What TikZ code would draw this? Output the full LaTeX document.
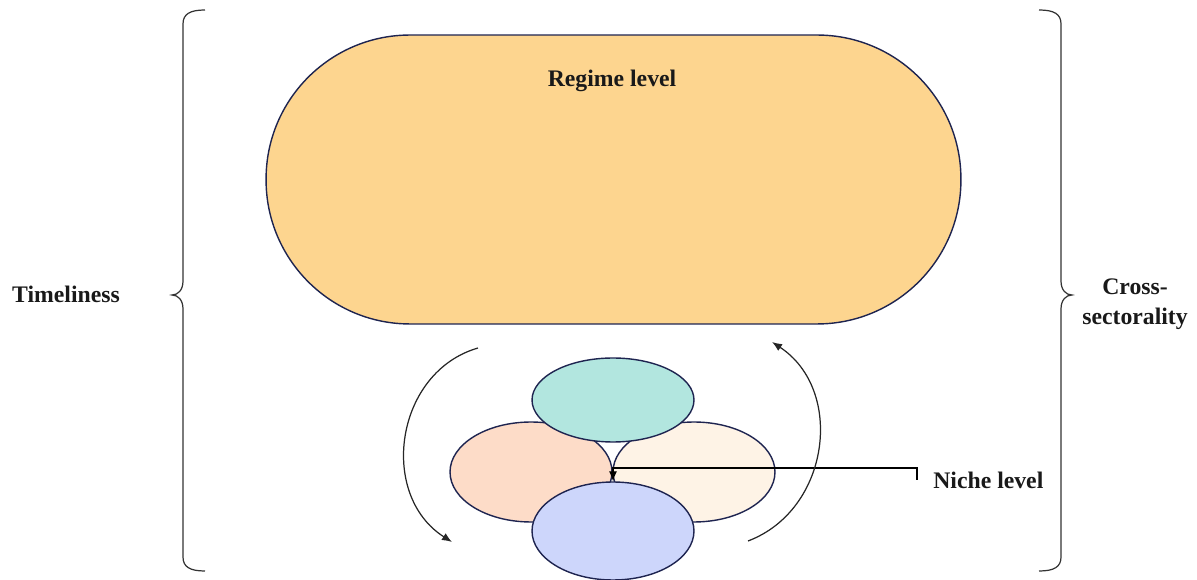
\documentclass[tikz,border=0pt]{standalone}
\usepackage{fontspec}
\setmainfont{Liberation Serif}
\usetikzlibrary{arrows.meta,positioning,shapes.geometric}

\definecolor{edge}{RGB}{30,36,80}
\definecolor{regimefill}{RGB}{253,213,143}
\definecolor{nicheteal}{RGB}{178,230,223}
\definecolor{nichepeach}{RGB}{253,220,200}
\definecolor{nichecream}{RGB}{254,243,230}
\definecolor{nichelav}{RGB}{205,214,251}

\begin{document}
\begin{tikzpicture}[x=0.02cm, y=-0.02cm, >={Latex[length=0.2cm,width=0.16cm]},
  font=\fontsize{13.5}{17}\selectfont\bfseries,
  regime/.style={draw=edge, line width=0.8pt, fill=regimefill, rounded corners=2.88cm, minimum width=13.9cm, minimum height=5.78cm},
  niche/.style={draw=edge, line width=0.8pt, ellipse, inner sep=0pt, minimum width=3.24cm},
  lbl/.style={align=center, inner sep=0pt, text=black!90},
  curly/.style={line width=0.7pt, black!80}]
\useasboundingbox (0,0) rectangle (1197,580);

\node[regime] (regime) at (613.5,179.5) {};
\node[lbl] (regimelbl) at (612,81) {Regime level};

% niche ellipses
\node[niche, fill=nichepeach, minimum height=2cm] (nicheL) at (531,472) {};
\node[niche, fill=nichecream, minimum height=2cm] (nicheR) at (694,472) {};
\node[niche, fill=nicheteal, minimum height=1.68cm] (nicheT) at (613,400) {};
\node[niche, fill=nichelav, minimum height=1.96cm] (nicheB) at (613,531) {};

\coordinate (nichept) at (917,480);
\node[lbl, anchor=west] (nichelbl) at (933,480) {Niche level};
\draw[->, line width=0.7pt] (nichept) -- ++(0,-12) -| (nicheB.north);

% turning arrows
\draw[->, line width=0.7pt, black!85] (478,348) .. controls (395,372) and (378,495) .. (452,542);
\draw[->, line width=0.7pt, black!85] (748,541) .. controls (830,510) and (845,390) .. (772,342);

% braces
\draw[curly] (205,10) .. controls (190,10) and (183,14) .. (183,24) -- (183,281)
  .. controls (183,290) and (178,295) .. (172,295)
  .. controls (178,295) and (183,300) .. (183,309) -- (183,557)
  .. controls (183,567) and (190,571) .. (205,571);
\draw[curly] (1039,10) .. controls (1054,10) and (1061,14) .. (1061,24) -- (1061,281)
  .. controls (1061,290) and (1066,295) .. (1072,295)
  .. controls (1066,295) and (1061,300) .. (1061,309) -- (1061,557)
  .. controls (1061,567) and (1054,571) .. (1039,571);

\node[lbl] (timelbl) at (66,294) {Timeliness};
\node[lbl] (crosslbl) at (1135,304) {Cross-\\sectorality};
\end{tikzpicture}
\end{document}
